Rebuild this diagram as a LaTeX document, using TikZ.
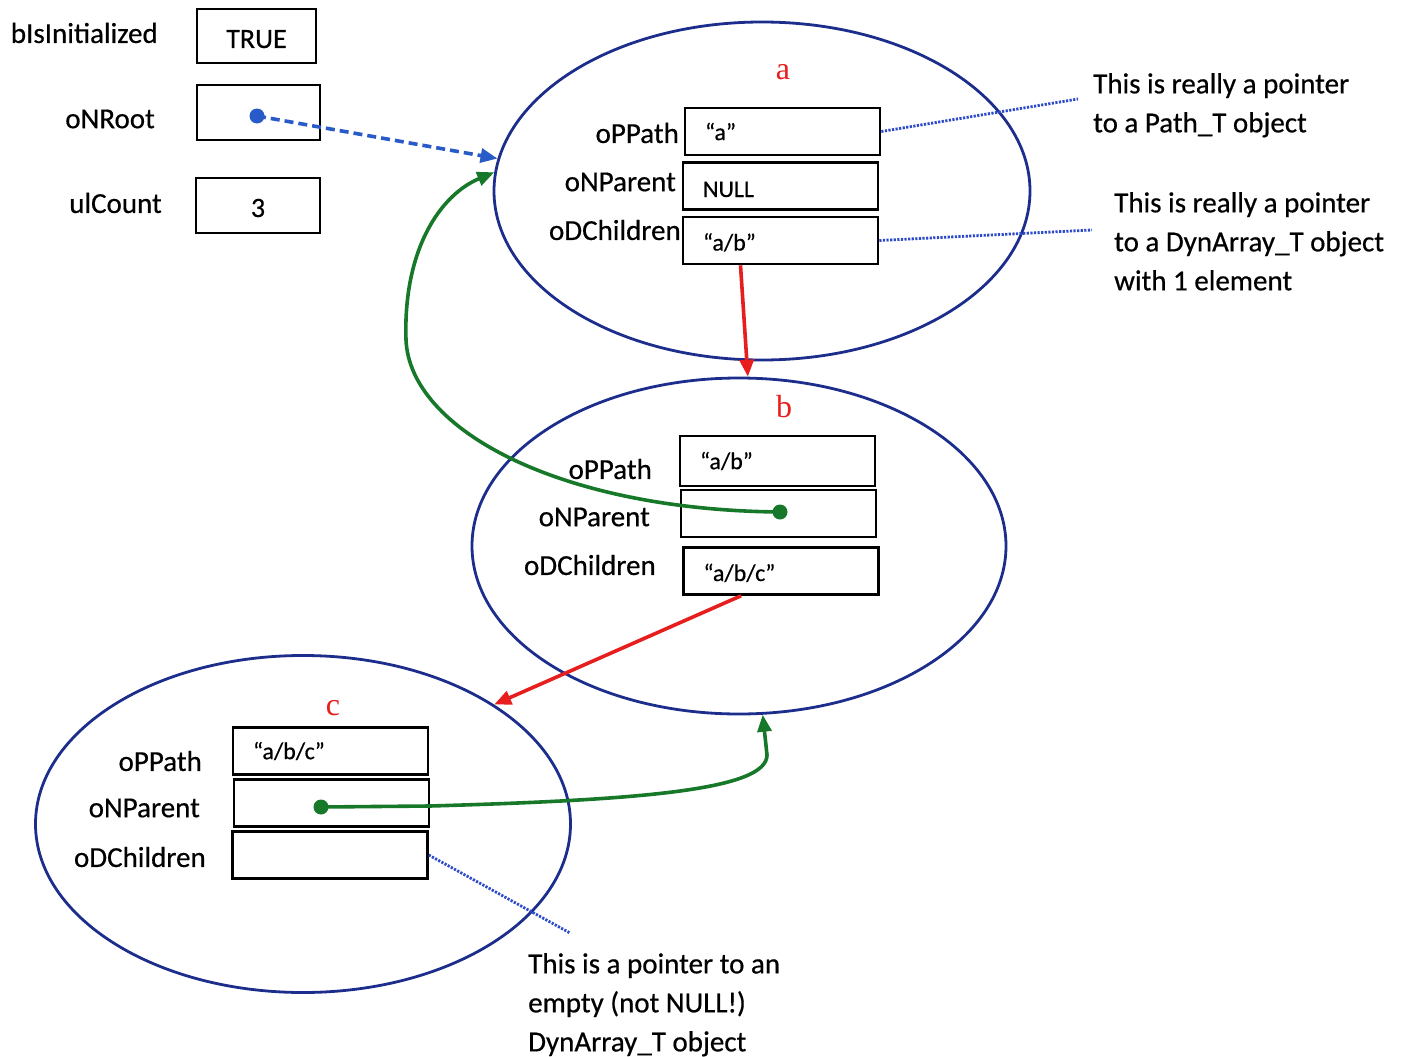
\documentclass[tikz,border=0pt]{standalone}
\usepackage{fontspec}
\setmainfont[FakeBold=0.5]{Carlito}
\newfontfamily\redserif{Liberation Serif}
\usetikzlibrary{shapes.geometric,arrows.meta}
\definecolor{ellblue}{RGB}{28,45,140}
\definecolor{ptrblue}{RGB}{40,90,200}
\definecolor{dotblue}{RGB}{45,75,200}
\definecolor{ptrgreen}{RGB}{22,120,40}
\definecolor{ptrred}{RGB}{230,30,30}
\begin{document}
\begin{tikzpicture}[x=1pt,y=-1pt,
  objell/.style={draw=ellblue, line width=2.8pt, ellipse, inner sep=0pt},
  field/.style={draw=black, line width=2.6pt, minimum height=47pt, text width=155pt,
    inner xsep=20pt, inner ysep=0pt, align=left, font=\fontsize{24}{28}\selectfont},
  fname/.style={anchor=east, inner sep=0pt, font=\fontsize{29}{34}\selectfont},
  varbox/.style={draw=black, line width=2.6pt, minimum width=122pt, minimum height=55pt,
    inner sep=0pt, font=\fontsize{28}{32}\selectfont},
  tag/.style={text=ptrred, inner sep=0pt, font=\redserif\fontsize{32}{36}\selectfont},
  note/.style={anchor=north west, align=left, inner sep=0pt, font=\fontsize{29}{39}\selectfont},
  ptrdot/.style={circle, fill, inner sep=0pt, minimum size=15pt},
  ptr/.style={line width=3.6pt, -{Triangle[length=17pt,width=14pt]}},
  dotline/.style={draw=dotblue, line width=2.8pt, dash pattern=on 2.2pt off 1.4pt}
]
\useasboundingbox (0,0) rectangle (1406,1057);

% top-level variables
\node[varbox, minimum width=119pt, minimum height=54pt, text height=24pt, text depth=0pt] (vinit) at (256.5,36) {TRUE};
\node[varbox, minimum width=123pt] (vroot) at (258.5,112.5) {};
\node[varbox, minimum width=124pt, text height=23pt, text depth=0pt] (vcount) at (258,205.5) {3};
\node[fname] (linit) at (158,33) {bIsInitialized};
\node[fname] (lroot) at (155,119) {oNRoot};
\node[fname] (lcount) at (162,203) {ulCount};
\node[ptrdot, fill=ptrblue] (rootdot) at (257,116) {};

% ellipses
\node[objell, minimum width=536pt, minimum height=338pt] (ea) at (762,191) {};
\node[objell, minimum width=534pt, minimum height=336pt] (eb) at (739,546) {};
\node[objell, minimum width=535pt, minimum height=337pt] (ec) at (303,824) {};

\node[tag] (ta) at (783,72) {a};
\node[tag] (tb) at (784,407) {b};
\node[tag] (tc) at (333,708) {c};

% node a fields
\node[field] (aP) at (782.5,131.5) {“a”};
\node[field, text height=22pt, text depth=0pt] (aN) at (780.5,186) {NULL};
\node[field, text height=20pt, text depth=0pt] (aC) at (780.5,240.5) {“a/b”};
\node[fname] (laP) at (679,133) {oPPath};
\node[fname] (laN) at (676,182) {oNParent};
\node[fname] (laC) at (681,230) {oDChildren};

% node b fields
\node[field, minimum height=50pt] (bP) at (777.5,461) {“a/b”};
\node[field] (bN) at (778.5,513.5) {};
\node[field, text height=20pt, text depth=0pt] (bC) at (781,571) {“a/b/c”};
\node[fname] (lbP) at (652,469) {oPPath};
\node[fname] (lbN) at (650,517) {oNParent};
\node[fname] (lbC) at (656,565) {oDChildren};

% node c fields
\node[field] (cP) at (330.5,751) {“a/b/c”};
\node[field] (cN) at (331.5,803) {};
\node[field] (cC) at (330,855) {};
\node[fname] (lcP) at (202,761) {oPPath};
\node[fname] (lcN) at (200,808) {oNParent};
\node[fname] (lcC) at (206,857) {oDChildren};

\node[ptrdot, fill=ptrgreen] (bdot) at (780,512) {};
\node[ptrdot, fill=ptrgreen] (cdot) at (321,807) {};

% notes
\coordinate (n1end) at (1078,99);
\coordinate (n2end) at (1092,230);
\coordinate (n3end) at (570,933);
\node[note] (n1) at (1093,73) {This is really a pointer\\to a Path\_T object};
\node[note] (n2) at (1114,192) {This is really a pointer\\to a DynArray\_T object\\with 1 element};
\node[note] (n3) at (528,953) {This is a pointer to an\\empty (not NULL!)\\DynArray\_T object};

\draw[dotline] (aP.east) -- (n1end);
\draw[dotline] (aC.east) -- (n2end);
\draw[dotline] (cC.east) -- (n3end);

% pointers
\draw[ptrblue, ptr, dash pattern=on 9pt off 5pt] (rootdot.center) -- (ea.173);
\draw[ptrred, ptr] ([xshift=-40pt]aC.south) -- (eb.87);
\draw[ptrred, ptr] ([xshift=-40pt]bC.south) -- (ec.32);
\draw[ptrgreen, ptr] (bdot.center) .. controls (560,510) and (410,430) .. (406,340)
   .. controls (403,250) and (440,195) .. (ea.176);
\draw[ptrgreen, ptr] (cdot.center) -- (430,806) .. controls (640,800) and (767,790) .. (767,755)
   -- (eb.-82);
\end{tikzpicture}
\end{document}
